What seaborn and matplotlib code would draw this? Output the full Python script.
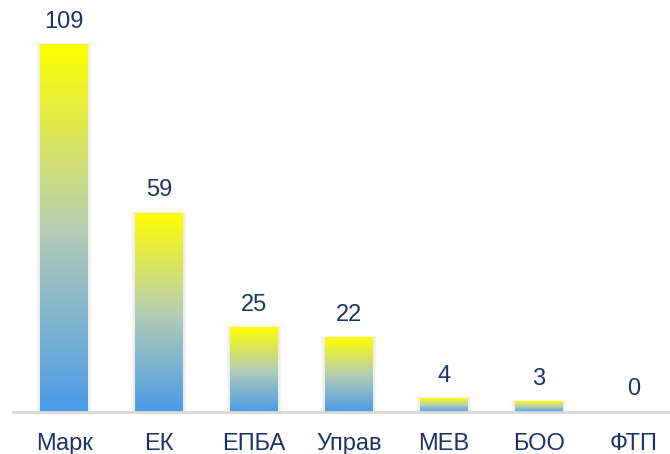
import numpy as np
import matplotlib
matplotlib.use('Agg')
import matplotlib.pyplot as plt
from matplotlib.colors import LinearSegmentedColormap
from matplotlib.patches import Rectangle
import seaborn as sns
import pandas as pd

categories = ['Марк', 'ЕК', 'ЕПБА', 'Управ', 'МЕВ', 'БОО', 'ФТП']
values = [109, 59, 25, 22, 4, 3, 0]

sns.set_theme(style='white')
plt.rcParams['font.family'] = ['Liberation Sans', 'DejaVu Sans']

navy = '#1B3366'
fig = plt.figure(figsize=(6.7, 4.54), dpi=100)
ax = fig.add_axes([13 / 670, 42 / 454, 657 / 670, 412 / 454])
df = pd.DataFrame({'cat': categories, 'val': values})
sns.barplot(data=df, x='cat', y='val', ax=ax, width=0.505, color='#4A9BE8',
            errorbar=None)

xlim = (-51 / 95, 606 / 95)
ylim = (0, 412 / 3.367)
px_x = 1 / 95
px_y = 1 / 3.367

cmap = LinearSegmentedColormap.from_list('g', ['#4A9BE8', '#B6CDB4', '#FFFF00'])
grad = np.linspace(0, 1, 256).reshape(-1, 1)

for p in ax.patches:
    x0 = p.get_x()
    w = p.get_width()
    h = p.get_height()
    p.set_facecolor('none')
    p.set_edgecolor('none')
    if h <= 0:
        continue
    for d in (1, 2, 3, 4):
        ax.add_patch(Rectangle((x0 - d * px_x, 0.0), w + 2 * d * px_x, h + d * px_y * 0.5,
                               facecolor='gray', edgecolor='none', alpha=0.035, zorder=2))
    ax.imshow(grad, extent=[x0, x0 + w, 0, h], origin='lower', aspect='auto',
              cmap=cmap, zorder=3, interpolation='bilinear')

for i, v in enumerate(values):
    ax.annotate(str(v), (i, v), xytext=(0, 12), textcoords='offset pixels',
                ha='center', va='bottom', fontsize=17, color=navy)

ax.set_xlim(*xlim)
ax.set_ylim(*ylim)
ax.set_xlabel('')
ax.set_ylabel('')
ax.set_yticks([])
for s in ['top', 'left', 'right']:
    ax.spines[s].set_visible(False)
ax.spines['bottom'].set_color('#D9D9D9')
ax.spines['bottom'].set_linewidth(2)
ax.spines['bottom'].set_zorder(4)
ax.tick_params(axis='x', length=0, pad=15, labelsize=17, labelcolor=navy)

fig.savefig('out.png', dpi=100)
